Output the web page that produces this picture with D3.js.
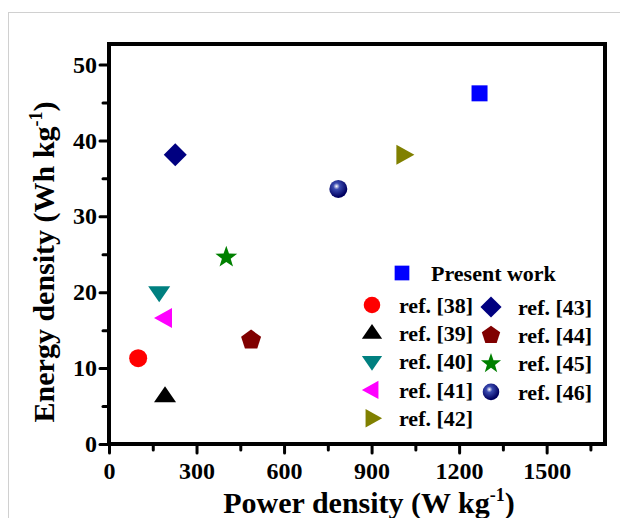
<!DOCTYPE html>
<html>
<head>
<meta charset="utf-8">
<script src="https://cdn.jsdelivr.net/npm/d3@7"></script>
<style>
  body { margin: 0; background: #fff; }
</style>
</head>
<body>
<div id="chart"></div>
<script>
// data
const labels = ["Present work", "ref. [38]", "ref. [39]", "ref. [40]", "ref. [41]", "ref. [42]",
                "ref. [43]", "ref. [44]", "ref. [45]", "ref. [46]"];
const powerDensity = [1270, 100, 192, 172, 192, 1009, 227, 487, 402, 786];
const energyDensity = [46.2, 11.3, 6.3, 20.0, 16.6, 38.1, 38.1, 13.7, 24.6, 33.6];
const colors = ["#0000ff", "#ff0000", "#000000", "#008080", "#ff00ff", "#808000",
                "#000080", "#800000", "#008000", "#000080"];
const shapes = ["square", "circle", "triUp", "triDown", "triLeft", "triRight",
                "diamond", "pentagon", "star", "sphere"];
const xTicks = [0, 300, 600, 900, 1200, 1500];
const yTicks = [0, 10, 20, 30, 40, 50];

const W = 620, H = 518;
const FONT = "'Liberation Serif', 'Times New Roman', serif";

const svg = d3.select("#chart").append("svg")
    .attr("width", W)
    .attr("height", H);

// thin grey frame around the picture
svg.append("rect")
    .attr("x", 8.5).attr("y", 12.5)
    .attr("width", W).attr("height", H)
    .attr("fill", "none").attr("stroke", "#d0d0d0");

const defs = svg.append("defs");
const grad = defs.append("radialGradient").attr("id", "sphere")
    .attr("cx", "40%").attr("cy", "35%").attr("r", "60%");
grad.append("stop").attr("offset", "0%").attr("stop-color", "#ffffff");
grad.append("stop").attr("offset", "30%").attr("stop-color", "#3a4ab0");
grad.append("stop").attr("offset", "100%").attr("stop-color", "#000060");

const xMax = 1700, yMax = 52.7;
const x = d3.scaleLinear().domain([0, xMax]).range([109, 605]);
const y = d3.scaleLinear().domain([0, yMax]).range([444, 44]);

// AXES
const xAxis = svg.append("g")
    .attr("transform", "translate(0," + y(0) + ")")
    .call(d3.axisBottom(x).tickValues(d3.range(0, 1700, 150)).tickSize(8)
        .tickFormat(d => xTicks.includes(d) ? d : ""));
xAxis.selectAll(".tick line").attr("stroke-width", 3).attr("stroke-linecap", "round")
    .attr("y2", d => xTicks.includes(d) ? 9 : 6);
xAxis.selectAll(".tick text").attr("dy", "0.98em");
xAxis.select(".domain").remove();

const yAxis = svg.append("g")
    .attr("transform", "translate(" + x(0) + ",0)")
    .call(d3.axisLeft(y).tickValues(d3.range(0, 52, 5)).tickSize(8)
        .tickFormat(d => yTicks.includes(d) ? d : ""));
yAxis.selectAll(".tick line").attr("stroke-width", 3).attr("stroke-linecap", "round")
    .attr("x2", d => yTicks.includes(d) ? -9 : -6);
yAxis.selectAll(".tick text").attr("x", -12);
yAxis.select(".domain").remove();

svg.selectAll(".tick text")
    .style("font-family", FONT).style("font-weight", "bold")
    .style("font-size", "24px").attr("fill", "#000");

// plot frame
svg.append("rect")
    .attr("x", x(0)).attr("y", y(yMax))
    .attr("width", x(xMax) - x(0)).attr("height", y(0) - y(yMax))
    .attr("fill", "none").attr("stroke", "#000").attr("stroke-width", 4);

// AXES LABELS
const xt = svg.append("text")
    .attr("x", 369).attr("y", 513)
    .attr("text-anchor", "middle")
    .style("font-family", FONT).style("font-weight", "bold").style("font-size", "30px");
xt.append("tspan").text("Power density (W kg");
xt.append("tspan").text("-1").style("font-size", "18px").attr("dy", -12);
xt.append("tspan").text(")").attr("dy", 12);

const yt = svg.append("text")
    .attr("transform", "translate(54,262) rotate(-90)")
    .attr("text-anchor", "middle")
    .style("font-family", FONT).style("font-weight", "bold").style("font-size", "30px");
yt.append("tspan").text("Energy density (Wh kg");
yt.append("tspan").text("-1").style("font-size", "18px").attr("dy", -12);
yt.append("tspan").text(")").attr("dy", 12);

// marker shapes
function pathFor(shape, k) {
  const line = pts => "M" + pts.map(p => [p[0] * k, p[1] * k].join(",")).join("L") + "Z";
  const poly = (n, r, rot) => d3.range(n).map(i => {
    const a = rot + i * 2 * Math.PI / n;
    return [r * Math.cos(a), r * Math.sin(a)];
  });
  switch (shape) {
    case "square": return line([[-8, -8], [8, -8], [8, 8], [-8, 8]]);
    case "circle": return d3.symbol(d3.symbolCircle, Math.PI * 81 * k * k)();
    case "sphere": return d3.symbol(d3.symbolCircle, Math.PI * 81 * k * k)();
    case "triUp": return line([[0, -10], [11, 6], [-11, 6]]);
    case "triDown": return line([[0, 10], [11, -6], [-11, -6]]);
    case "triLeft": return line([[-11, 0], [7, -10], [7, 10]]);
    case "triRight": return line([[11, 0], [-7, -10], [-7, 10]]);
    case "diamond": return line([[0, -11.5], [11.5, 0], [0, 11.5], [-11.5, 0]]);
    case "pentagon": return line(poly(5, 10.5, -Math.PI / 2));
    case "star": return line(d3.range(10).map(i => {
      const a = -Math.PI / 2 + i * Math.PI / 5, r = i % 2 ? 4.6 : 11.5;
      return [r * Math.cos(a), r * Math.sin(a)];
    }));
  }
}

const pts = labels.map((l, i) => ({ l, px: powerDensity[i], ed: energyDensity[i], c: colors[i], s: shapes[i] }));

svg.append("g").selectAll("path")
    .data(pts)
    .join("path")
    .attr("transform", d => "translate(" + x(d.px) + "," + y(d.ed) + ")")
    .attr("d", d => pathFor(d.s, 1))
    .attr("fill", d => d.s === "sphere" ? "url(#sphere)" : d.c);

// LEGEND
const legendPos = [[402, 273, 431]]
    .concat(d3.range(5).map(i => [372, 305 + i * 28.3, 399]))
    .concat(d3.range(4).map(i => [491, 307 + i * 28.3, 518]));

const lg = svg.append("g").selectAll("g")
    .data(pts)
    .join("g")
    .attr("transform", (d, i) => "translate(" + legendPos[i][0] + "," + legendPos[i][1] + ")");
lg.append("path")
    .attr("d", d => pathFor(d.s, 0.92))
    .attr("fill", d => d.s === "sphere" ? "url(#sphere)" : d.c);
lg.append("text")
    .attr("x", (d, i) => legendPos[i][2] - legendPos[i][0])
    .attr("dy", "0.35em")
    .style("font-family", FONT).style("font-weight", "bold").style("font-size", "22px")
    .text(d => d.l);
</script>
</body>
</html>
